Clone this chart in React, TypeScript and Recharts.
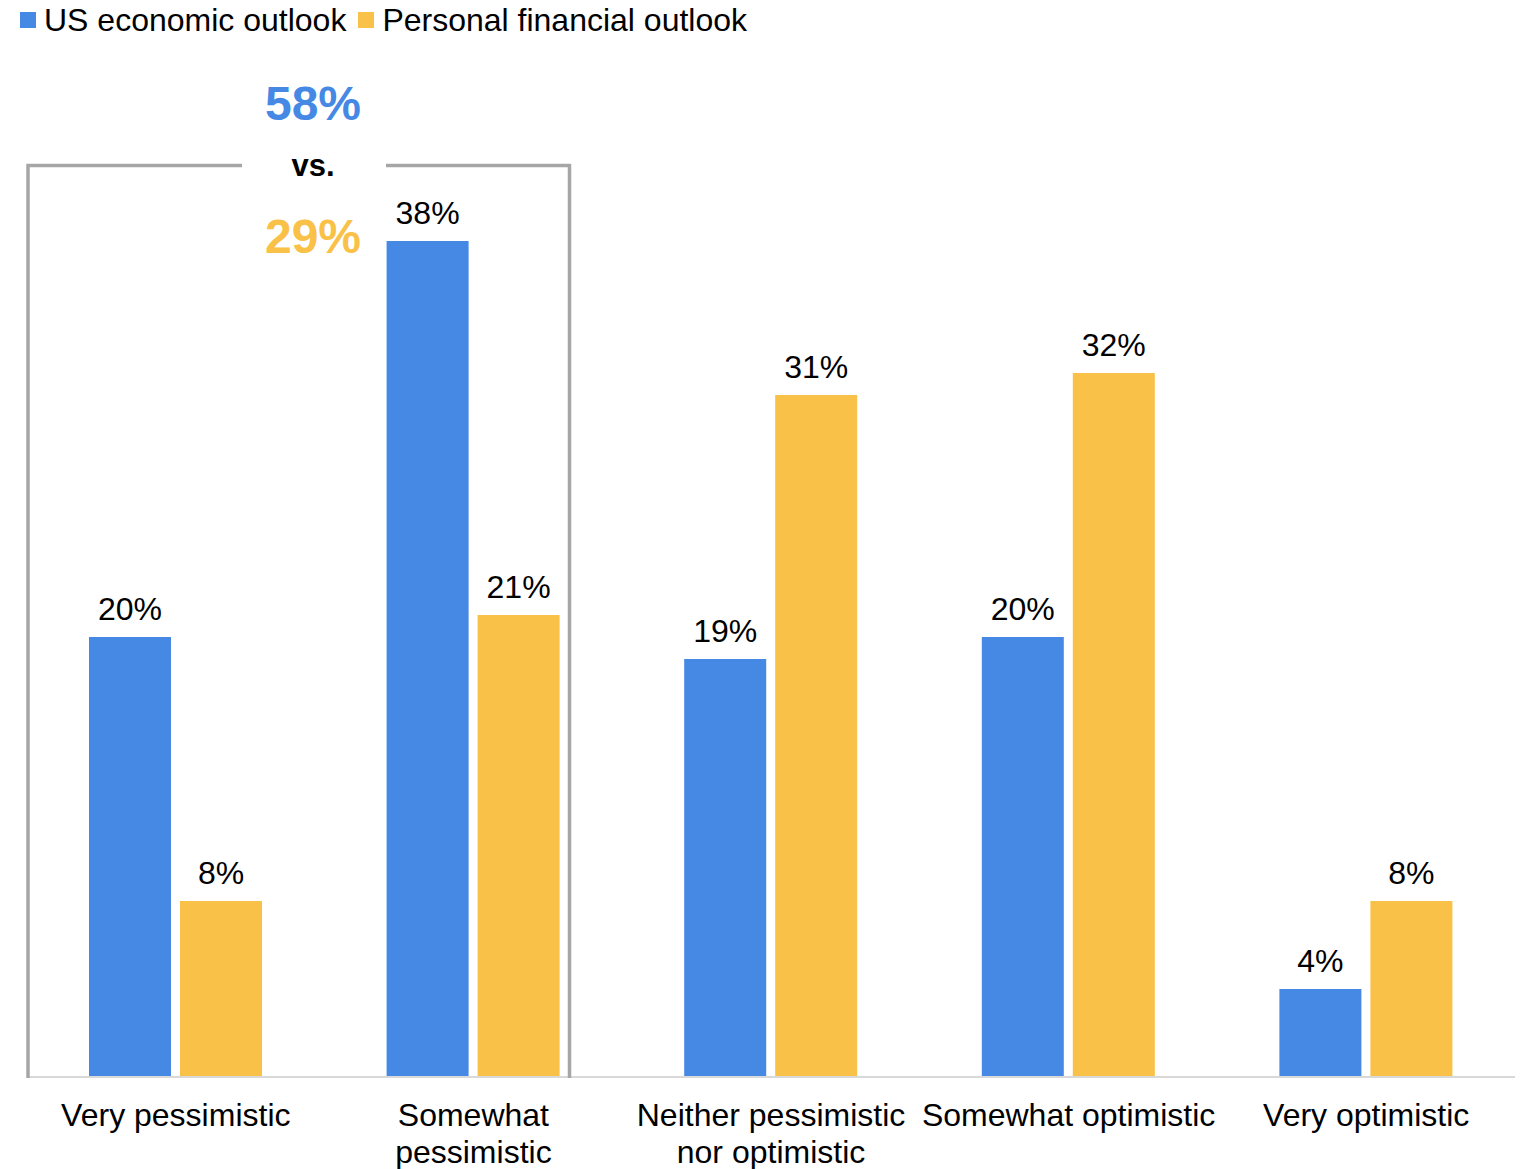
import { BarChart, Bar, XAxis, YAxis, LabelList, Legend } from "recharts";

const categories = [
  "Very pessimistic",
  "Somewhat\npessimistic",
  "Neither pessimistic\nnor optimistic",
  "Somewhat optimistic",
  "Very optimistic",
];
const usEconomic = [20, 38, 19, 20, 4];
const personalFinancial = [8, 21, 31, 32, 8];

const seriesNames = ["US economic outlook", "Personal financial outlook"];
const blue = "#4589e5";
const yellow = "#f9c147";

const calloutTop = "58%";
const calloutMid = "vs.";
const calloutBottom = "29%";

const FONT = "Arial, 'Liberation Sans', Helvetica, sans-serif";

const data = categories.map((name, i) => ({
  name,
  us: usEconomic[i],
  personal: personalFinancial[i],
}));

const pct = (v: number) => `${v}%`;

function CategoryTick(props: any) {
  const { x, y, payload } = props;
  const lines = String(payload.value).split("\n");
  return (
    <g>
      {lines.map((line, i) => (
        <text
          key={i}
          x={x}
          y={y + 41 + i * 37}
          textAnchor="middle"
          fontSize={32}
          fontFamily={FONT}
          fill="#000"
        >
          {line}
        </text>
      ))}
    </g>
  );
}

function LegendContent() {
  const colors = [blue, yellow];
  return (
    <div style={{ display: "flex", alignItems: "center", fontFamily: FONT, fontSize: 32, lineHeight: "40px", height: 40 }}>
      {seriesNames.map((n, i) => (
        <div key={n} style={{ display: "flex", alignItems: "center", marginRight: 12 }}>
          <span style={{ display: "inline-block", width: 16, height: 16, background: colors[i], marginRight: 8 }} />
          <span style={{ color: "#000" }}>{n}</span>
        </div>
      ))}
    </div>
  );
}

export default function App() {
  return (
    <div style={{ position: "absolute", left: 0, top: 0, width: 1528, height: 1169, background: "#fff" }}>
      <BarChart
        width={1528}
        height={1169}
        data={data}
        margin={{ top: 157, right: 13, left: 27, bottom: 0 }}
        barCategoryGap="21%"
        barGap={9}
      >
        <XAxis
          dataKey="name"
          interval={0}
          tickLine={false}
          axisLine={{ stroke: "#d9d9d9", strokeWidth: 2 }}
          tick={<CategoryTick />}
          height={92}
        />
        <YAxis hide domain={[0, 40]} />
        <Legend
          verticalAlign="top"
          align="left"
          content={<LegendContent />}
          wrapperStyle={{ position: "absolute", top: 0, left: 20, width: "auto" }}
        />
        <Bar dataKey="us" name={seriesNames[0]} fill={blue} barSize={82} isAnimationActive={false}>
          <LabelList dataKey="us" position="top" offset={17} formatter={pct} fontSize={32} fontFamily={FONT} fill="#000" />
        </Bar>
        <Bar dataKey="personal" name={seriesNames[1]} fill={yellow} barSize={82} isAnimationActive={false}>
          <LabelList dataKey="personal" position="top" offset={17} formatter={pct} fontSize={32} fontFamily={FONT} fill="#000" />
        </Bar>
      </BarChart>
      <svg
        width={1528}
        height={1169}
        style={{ position: "absolute", left: 0, top: 0, pointerEvents: "none" }}
      >
        <path
          d="M242 165.5 H28 V1078 M386 165.5 H569.5 V1078"
          fill="none"
          stroke="#a6a6a6"
          strokeWidth={3.5}
        />
        <text x={313} y={120} textAnchor="middle" fontSize={48} fontWeight="bold" fontFamily={FONT} fill={blue}>
          {calloutTop}
        </text>
        <text x={313} y={176} textAnchor="middle" fontSize={31} fontWeight="bold" fontFamily={FONT} fill="#000">
          {calloutMid}
        </text>
        <text x={313} y={253} textAnchor="middle" fontSize={48} fontWeight="bold" fontFamily={FONT} fill={yellow}>
          {calloutBottom}
        </text>
      </svg>
    </div>
  );
}
